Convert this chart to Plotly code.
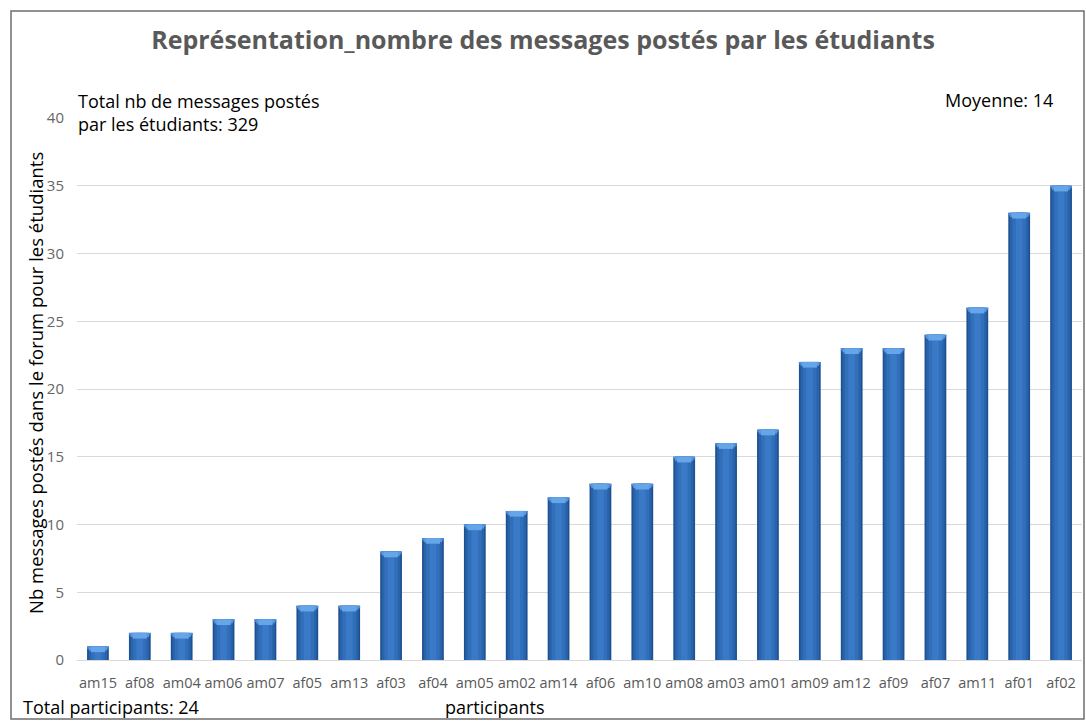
import plotly.graph_objects as go

# Messages posted in the forum, per student (sorted ascending)
participants = ["am15", "af08", "am04", "am06", "am07", "af05", "am13", "af03",
                "af04", "am05", "am02", "am14", "af06", "am10", "am08", "am03",
                "am01", "am09", "am12", "af09", "af07", "am11", "af01", "af02"]
messages = [1, 2, 2, 3, 3, 4, 4, 8, 9, 10, 11, 12, 13, 13, 15, 16, 17,
            22, 23, 23, 24, 26, 33, 35]

total = sum(messages)
mean = round(total / len(messages))

W, H = 1086, 722
ML, MR, MT, MB = 77, 4, 118, 62
PW, PH = W - ML - MR, H - MT - MB


def px_x(p):
    return (p - ML) / PW


def px_y(p):
    return (H - MB - p) / PH


FONT = "Open Sans"
fig = go.Figure()

# Layered bars give the shaded, cylinder-like look
layers = [(0.52, "#1f5192"), (0.44, "#2964ab"), (0.32, "#316fbb"), (0.16, "#3979c6")]
for width, color in layers:
    fig.add_trace(go.Bar(x=participants, y=messages, width=width,
                         marker=dict(color=color, line=dict(width=0)),
                         hoverinfo="skip", showlegend=False))

# Bevelled light cap: wide at the top edge, narrowing downwards
caps = [(0.52, 0.18, "#4a8ad6"), (0.44, 0.30, "#5898e0"), (0.34, 0.42, "#66a5e8")]
for width, depth, color in caps:
    fig.add_trace(go.Bar(x=participants, y=[depth] * len(messages),
                         base=[v - depth for v in messages], width=width,
                         marker=dict(color=color, line=dict(width=0)),
                         hoverinfo="skip", showlegend=False))

fig.update_layout(
    width=W, height=H, barmode="overlay",
    margin=dict(l=ML, r=MR, t=MT, b=MB),
    paper_bgcolor="white", plot_bgcolor="white",
    font=dict(family=FONT, color="#595959", size=14),
    title=dict(text="<b>Représentation_nombre des messages postés par les étudiants</b>",
               x=0.5, xanchor="center", y=1 - 40 / H, yanchor="middle",
               font=dict(size=25, color="#595959", family=FONT)),
    xaxis=dict(type="category", showgrid=False, ticks="", showline=True,
               linecolor="#d9d9d9", linewidth=1, ticklabelstandoff=10,
               tickfont=dict(size=14.5, color="#595959")),
    yaxis=dict(range=[0, 40], dtick=5, showgrid=True, gridcolor="#d9d9d9",
               zeroline=False, ticks="", showline=False,
               tickfont=dict(size=15, color="#666666"), ticklabelstandoff=12),
)

annotations = [
    dict(text=f"Total nb de messages postés<br>par les étudiants: {total}",
         x=px_x(76), y=px_y(87), xanchor="left", yanchor="top", align="left",
         font=dict(size=18, color="#000000")),
    dict(text=f"Moyenne: {mean}", x=px_x(1055), y=px_y(100), xanchor="right",
         yanchor="middle", font=dict(size=18, color="#000000")),
    dict(text=f"Total participants: {len(participants)}", x=px_x(21), y=px_y(707),
         xanchor="left", yanchor="middle", font=dict(size=18, color="#000000")),
    dict(text="participants", x=px_x(495), y=px_y(707), xanchor="center",
         yanchor="middle", font=dict(size=18, color="#000000")),
    dict(text="Nb messages postés dans le forum pour les étudiants",
         x=px_x(35), y=px_y(383), xanchor="center", yanchor="middle",
         textangle=-90, font=dict(size=18.5, color="#000000")),
]
for a in annotations:
    a.update(xref="paper", yref="paper", showarrow=False)
fig.update_layout(annotations=annotations)

# Outer frame of the chart
fig.add_shape(type="rect", xref="paper", yref="paper",
              x0=px_x(11), x1=px_x(1084), y0=px_y(719), y1=px_y(11),
              line=dict(color="#6e6e6e", width=1.5), layer="below")

fig.write_html("out.html")
